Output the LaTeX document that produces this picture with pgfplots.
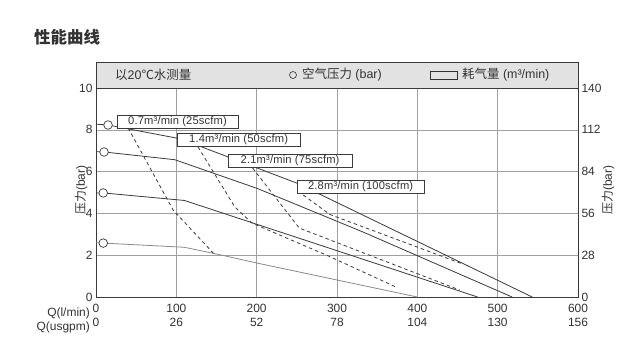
\documentclass[border=0pt]{standalone}
\usepackage{fontspec}
\setmainfont{Liberation Sans}
\newfontfamily\cjk{Noto Sans CJK SC}
\usepackage{pgfplots}
\pgfplotsset{compat=1.18}
\definecolor{txt}{HTML}{333333}
\definecolor{ln}{HTML}{3A3A3A}
\definecolor{lnl}{HTML}{8A8A8A}
\definecolor{gridc}{HTML}{A0A0A0}
\definecolor{hdr}{HTML}{E2E2E2}
\begin{document}
\begin{tikzpicture}[x=1bp,y=1bp]
\useasboundingbox (0,0) rectangle (640,-359);
\fill[white] (0,0) rectangle (640,-359);
\node[anchor=west, inner sep=0, font=\cjk\bfseries\fontsize{16.5}{19}\selectfont, text=txt] at (34,-37) {性能曲线};
\filldraw[fill=hdr, draw=ln, line width=1bp] (96,-62) rectangle (578,-88);
\node[anchor=west, inner sep=0, font=\fontsize{12.5}{14}\selectfont, text=txt] at (115,-75) {{\cjk 以}20{\cjk ℃水测量}};
\draw[txt, line width=0.6bp] (293,-75) circle (3.5);
\node[anchor=west, inner sep=0, font=\fontsize{12.5}{14}\selectfont, text=txt] at (302,-75) {{\cjk 空气压力} (bar)};
\draw[txt, line width=0.7bp] (430,-71) rectangle (457,-79);
\node[anchor=west, inner sep=0, font=\fontsize{12.5}{14}\selectfont, text=txt] at (462,-75) {{\cjk 耗气量} (m³/min)};
\begin{axis}[
  at={(96bp,-297bp)}, anchor=south west,
  scale only axis, width=482bp, height=209bp,
  xmin=0, xmax=600, ymin=0, ymax=10,
  xtick={0,100,...,600}, ytick={0,2,...,10},
  xticklabels={0\\0,100\\26,200\\52,300\\78,400\\104,500\\130,600\\156},
  grid=major, major grid style={gridc, line width=0.5bp},
  axis line style={ln, line width=1bp},
  tick style={draw=none},
  ticklabel style={font=\fontsize{12}{14}\selectfont, text=txt},
  xticklabel style={align=center, yshift=-4bp},
  /pgf/number format/assume math mode=true,
  clip=false,
]
\addplot[ln, line width=0.8bp] coordinates {(0,8.27)(15,8.23)(105,7.57)(250,5.45)(543,0)};
\addplot[ln, line width=0.8bp] coordinates {(0,6.95)(10,6.94)(98,6.57)(201,5.19)(333,3.1)(518,0)};
\addplot[ln, line width=0.8bp] coordinates {(0,4.98)(9,4.98)(110,4.62)(197,3.52)(475,0)};
\addplot[lnl, line width=0.8bp] coordinates {(0,2.6)(9,2.58)(110,2.38)(151,2.05)(201,1.62)(400,0)};
\addplot[ln, line width=0.8bp, dash pattern=on 3.5bp off 3bp] coordinates {(40,8.09)(96,4.16)(146,2.1)};
\addplot[ln, line width=0.8bp, dash pattern=on 3.5bp off 3bp] coordinates {(127,7.18)(173,4.3)(194,3.54)(290,1.95)(375,0.45)};
\addplot[ln, line width=0.8bp, dash pattern=on 3.5bp off 3bp] coordinates {(195,6.17)(253,3.3)(453,0.33)};
\addplot[ln, line width=0.8bp, dash pattern=on 3.5bp off 3bp] coordinates {(258,4.88)(291,3.95)(455,1.6)};
\addplot[only marks, mark=*, mark size=4.3bp, mark options={fill=white, draw=ln, line width=0.7bp}] coordinates {(15,8.23)(10,6.94)(9,4.98)(9,2.58)};
\tikzset{lab/.style={draw=ln, fill=white, line width=0.7bp, inner xsep=4bp, inner ysep=0.5bp, minimum height=13bp, font=\addfontfeatures{LetterSpace=1.5}\fontsize{11.2}{13}\selectfont, text=txt}}
\node[lab, minimum width=121bp] at (axis cs:101.5,8.40) {0.7m³/min (25scfm)};
\node[lab, minimum width=123bp] at (axis cs:177.5,7.54) {1.4m³/min (50scfm)};
\node[lab, minimum width=124bp] at (axis cs:241.6,6.53) {2.1m³/min (75scfm)};
\node[lab, minimum width=127bp] at (axis cs:329.4,5.26) {2.8m³/min (100scfm)};
\end{axis}
\begin{axis}[
  at={(96bp,-297bp)}, anchor=south west,
  scale only axis, width=482bp, height=209bp,
  xmin=0, xmax=600, ymin=0, ymax=140,
  ytick={0,28,...,140},
  axis y line*=right, axis x line=none,
  axis line style={draw=none},
  tick style={draw=none},
  ticklabel style={font=\fontsize{12}{14}\selectfont, text=txt},
  /pgf/number format/assume math mode=true,
]
\addplot[draw=none] coordinates {(0,0)};
\end{axis}
\node[anchor=east, inner sep=0, font=\fontsize{12}{14}\selectfont, text=txt] at (90,-313) {Q(l/min)};
\node[anchor=east, inner sep=0, font=\fontsize{12}{14}\selectfont, text=txt] at (90,-327) {Q(usgpm)};
\node[rotate=90, inner sep=0, font=\fontsize{12}{14}\selectfont, text=txt] at (81,-190) {{\cjk 压力}(bar)};
\node[rotate=90, inner sep=0, font=\fontsize{12}{14}\selectfont, text=txt] at (608,-190) {{\cjk 压力}(bar)};
\end{tikzpicture}
\end{document}
